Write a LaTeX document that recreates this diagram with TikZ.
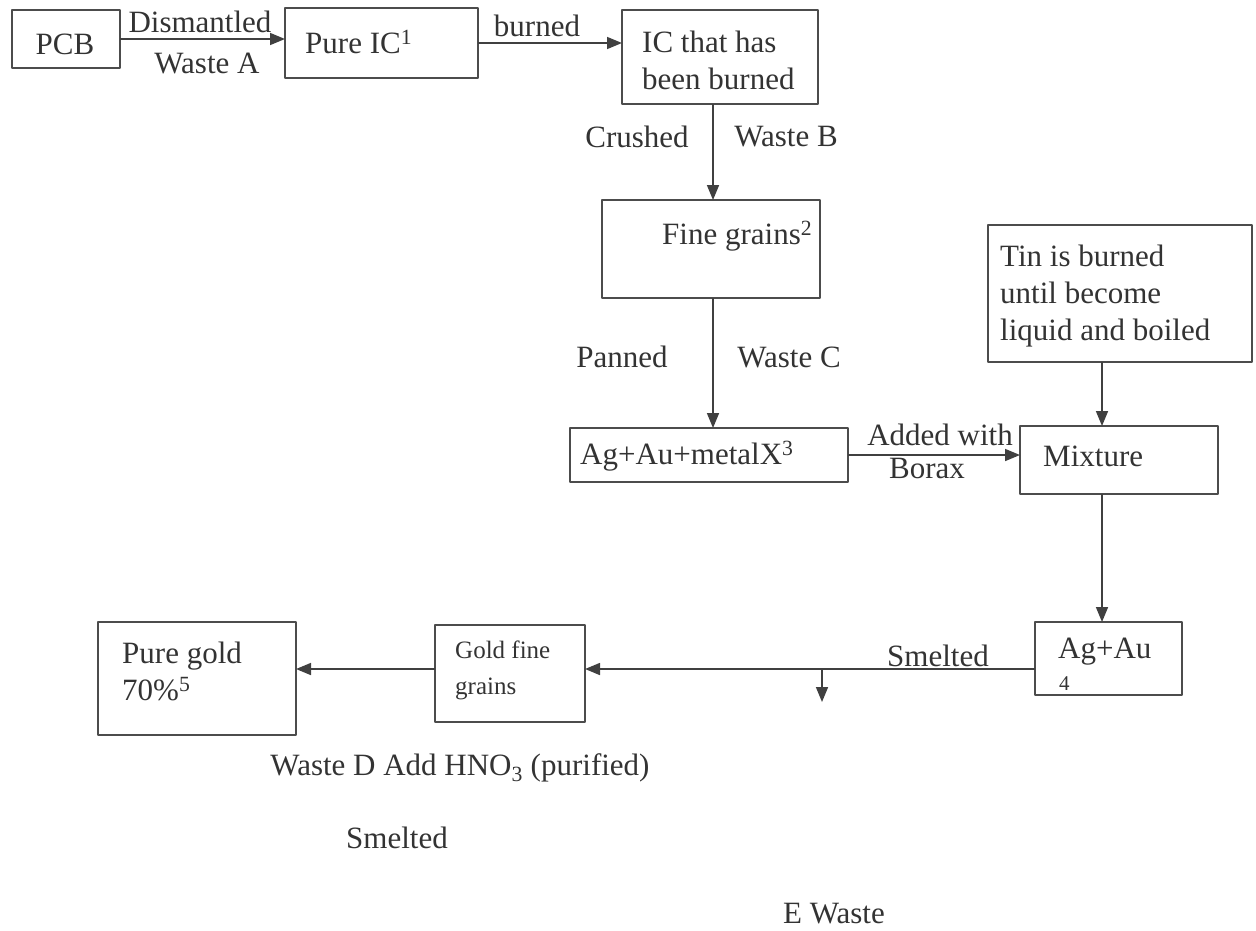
\documentclass[tikz,border=0pt]{standalone}
\usepackage{fontspec}
\setmainfont{Liberation Serif}
\usetikzlibrary{arrows.meta}
\begin{document}
\begin{tikzpicture}[x=1pt,y=-1pt,line join=round,>={Stealth[length=15pt,width=12pt,inset=0pt]},
  every node/.style={text=black!80,font=\fontsize{31}{37}\selectfont,inner sep=0pt},
  box/.style={draw=black!70,line width=1.2pt,outer sep=0pt},
  flow/.style={draw=black!75,line width=1.6pt,->}]
\useasboundingbox (0,0) rectangle (1256,930);
\coordinate (colm) at (713,0);
\coordinate (colr) at (1102,0);
\coordinate (rowb) at (0,669);
\coordinate (drop) at (822,669);
\coordinate (dropend) at (822,702);
% boxes: name/left/top/right/bottom
\foreach \n/\xa/\ya/\xb/\yb in {pcb/12/10/120/68,pic/285/8/478/78,icb/622/10/818/104,fine/602/200/820/298,agx/570/428/848/482,tin/988/225/1252/362,mix/1020/426/1218/494,agau/1035/622/1182/695,gfg/435/625/585/722,gold/98/622/296/735}
  \node[box,minimum width={(\xb-\xa)*1pt},minimum height={(\yb-\ya)*1pt}] (\n) at ({(\xa+\xb)/2},{(\ya+\yb)/2}) {};
% flow
\draw[flow] (pcb.east) -- (pcb.east -| pic.west);
\draw[flow] (pic.east) -- (pic.east -| icb.west);
\draw[flow] (icb.south -| colm) -- (fine.north -| colm);
\draw[flow] (fine.south -| colm) -- (agx.north -| colm);
\draw[flow] (agx.east) -- (agx.east -| mix.west);
\draw[flow] (tin.south -| colr) -- (mix.north -| colr);
\draw[flow] (mix.south -| colr) -- (agau.north -| colr);
\draw[flow] (agau.west |- rowb) -- (gfg.east |- rowb);
\draw[flow] (gfg.west |- rowb) -- (gold.east |- rowb);
\draw[flow] (drop) -- (dropend);
% texts in the boxes
\foreach \x/\y/\t [count=\i] in {305/42/Pure IC\textsuperscript{1},642/60/IC that has\\been burned,662/236/Fine grains\textsuperscript{2},580/456/Ag+Au+metalX\textsuperscript{3},1043/456/Mixture,1000/296/Tin is burned\\until become\\liquid and boiled,1058/652/Ag+Au,122/671/Pure gold\\70\%\textsuperscript{5}}
  \node[anchor=west,align=left] (in\i) at (\x,\y) {\t};
\node[anchor=west,font=\fontsize{21}{24}\selectfont] (four) at (1059,684) {4};
\node[anchor=west,align=left,font=\fontsize{25}{36}\selectfont] (gfgt) at (455,670) {Gold fine\\grains};
% labels on the flow
\foreach \x/\y/\t [count=\i] in {65/44/PCB,200/22/Dismantled,207/63/Waste A,537/26/burned,637/137/Crushed,786/137/Waste B,622/357/Panned,789/357/Waste C,940/435/Added with,927/468/Borax,938/656/Smelted,460/768/Waste D Add HNO\textsubscript{3} (purified),397/838/Smelted,834/914/E Waste}
  \node (lab\i) at (\x,\y) {\t};
\end{tikzpicture}
\end{document}
